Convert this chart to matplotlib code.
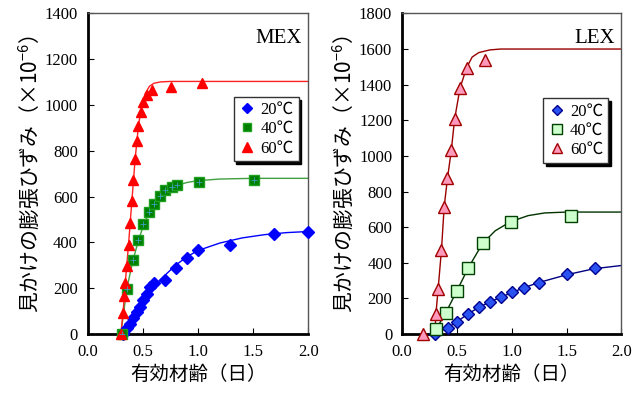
import numpy as np
import matplotlib.pyplot as plt
from matplotlib.lines import Line2D

plt.rcParams['font.family'] = ['Liberation Serif', 'Noto Sans CJK JP']
plt.rcParams['mathtext.fontset'] = 'custom'
plt.rcParams['mathtext.rm'] = 'Noto Sans CJK JP'

JP = ['Noto Sans CJK JP', 'DejaVu Sans']
LABELS = ['20℃', '40℃', '60℃']

# --- MEX: measured points ---
mex20_t = [0.32, 0.355, 0.385, 0.415, 0.445, 0.475, 0.505, 0.535, 0.565, 0.60, 0.70, 0.80, 0.90, 1.00, 1.29, 1.69, 2.00]
mex20_v = [0, 25, 45, 70, 95, 120, 148, 177, 205, 223, 238, 287, 331, 365, 390, 437, 447]
mex40_t = [0.31, 0.355, 0.41, 0.458, 0.505, 0.558, 0.597, 0.655, 0.70, 0.76, 0.81, 1.005, 1.505]
mex40_v = [0, 199, 322, 409, 482, 535, 570, 605, 627, 640, 649, 663, 674]
mex60_t = [0.30, 0.32, 0.33, 0.34, 0.355, 0.37, 0.385, 0.40, 0.415, 0.43, 0.445, 0.46, 0.48, 0.505, 0.535, 0.585, 0.755, 1.04]
mex60_v = [0, 90, 165, 221, 296, 391, 487, 580, 672, 765, 845, 910, 971, 1012, 1044, 1066, 1080, 1094]

# --- MEX: fitted curves ---
mex20_ct = [0.32, 0.40, 0.50, 0.60, 0.70, 0.80, 0.90, 1.00, 1.20, 1.40, 1.60, 1.80, 2.00]
mex20_cv = [0, 50, 140, 210, 257, 302, 338, 365, 398, 420, 434, 443, 448]
mex40_ct = [0.30, 0.355, 0.41, 0.46, 0.51, 0.56, 0.60, 0.66, 0.72, 0.80, 0.90, 1.00, 1.20, 1.50, 2.00]
mex40_cv = [0, 199, 322, 409, 482, 533, 568, 603, 628, 648, 662, 670, 677, 680, 680]
mex60_ct = [0.30, 0.32, 0.34, 0.37, 0.40, 0.43, 0.46, 0.49, 0.52, 0.56, 0.60, 0.66, 0.75, 2.00]
mex60_cv = [0, 90, 221, 391, 580, 765, 910, 1000, 1050, 1082, 1095, 1101, 1103, 1103]

# --- LEX: measured points ---
lex20_t = [0.30, 0.42, 0.50, 0.60, 0.70, 0.80, 0.90, 1.00, 1.11, 1.25, 1.50, 1.76]
lex20_v = [0, 37, 69, 112, 150, 178, 206, 234, 260, 288, 335, 369]
lex40_t = [0.31, 0.40, 0.50, 0.605, 0.735, 0.99, 1.54]
lex40_v = [26, 120, 242, 372, 509, 631, 663]
lex60_t = [0.19, 0.31, 0.33, 0.36, 0.385, 0.415, 0.45, 0.48, 0.53, 0.59, 0.755]
lex60_v = [0, 115, 255, 470, 715, 874, 1032, 1206, 1383, 1496, 1538]

# --- LEX: fitted curves ---
lex20_ct = [0.30, 0.42, 0.50, 0.60, 0.70, 0.80, 0.90, 1.00, 1.10, 1.25, 1.50, 1.75, 2.00]
lex20_cv = [0, 37, 69, 112, 150, 180, 207, 232, 258, 290, 333, 367, 385]
lex40_ct = [0.30, 0.31, 0.40, 0.50, 0.605, 0.735, 0.85, 0.99, 1.15, 1.30, 1.50, 2.00]
lex40_cv = [0, 26, 120, 242, 372, 509, 580, 631, 665, 680, 685, 685]
lex60_ct = [0.30, 0.31, 0.33, 0.36, 0.385, 0.415, 0.45, 0.48, 0.53, 0.59, 0.64, 0.70, 0.80, 0.90, 2.00]
lex60_cv = [0, 115, 255, 470, 715, 874, 1032, 1206, 1383, 1496, 1555, 1580, 1595, 1600, 1600]

mex_style = [
    dict(marker='D', ms=6, mfc='#0000ff', mec='#0000ff', line='#0000ff'),
    dict(marker='s', ms=7, mfc='#008000', mec='#20a020', line='#40a040'),
    dict(marker='^', ms=7.5, mfc='#ff0000', mec='#ff0000', line='#ff2020'),
]
lex_style = [
    dict(marker='D', ms=6, mfc='#2a52f0', mec='#000090', line='#000080'),
    dict(marker='s', ms=8, mfc='#ccffcc', mec='#004000', line='#003300'),
    dict(marker='^', ms=8.5, mfc='#ff99bb', mec='#a00000', line='#990000'),
]


def style_axes(ax, ymax, title):
    ax.set_xlim(0, 2.0)
    ax.set_ylim(0, ymax)
    ax.set_xticks(np.arange(0, 2.01, 0.5))
    ax.set_xticklabels(['0.0', '0.5', '1.0', '1.5', '2.0'])
    ax.set_yticks(np.arange(0, ymax + 1, 200))
    ax.tick_params(direction='in', labelsize=12, length=4, width=0.8, pad=7)
    for side in ('left', 'bottom'):
        ax.spines[side].set_linewidth(2.0)
        ax.spines[side].set_color('black')
    for side in ('top', 'right'):
        ax.spines[side].set_linewidth(1.0)
        ax.spines[side].set_color('#555555')
    ax.set_xlabel('有効材齢（日）', family=JP, fontsize=14, labelpad=3)
    ax.set_ylabel('見かけの膨張ひずみ（×10$^{\\mathregular{-6}}$）', family=JP, fontsize=15, labelpad=2)
    ax.text(0.97, 0.95, title, transform=ax.transAxes, ha='right', va='top', fontsize=15)


def draw(ax, series, styles, anchor):
    handles = []
    for (t, v, ct, cv), st, lab in zip(series, styles, LABELS):
        ax.plot(ct, cv, color=st['line'], lw=1.0, zorder=2)
        ax.plot(t, v, ls='none', marker=st['marker'], ms=st['ms'], mfc=st['mfc'],
                mec=st['mec'], mew=1.0, zorder=3, clip_on=False)
        handles.append(Line2D([], [], ls='none', marker=st['marker'], ms=st['ms'] - 1,
                              mfc=st['mfc'], mec=st['mec'], mew=1.0, label=lab))
    leg = ax.legend(handles=handles, loc='upper right', bbox_to_anchor=anchor,
                    fontsize=12, frameon=True, fancybox=False, shadow={'color': 'black', 'alpha': 1},
                    handletextpad=0.3, handlelength=1.0, borderpad=0.3, labelspacing=0.2,
                    borderaxespad=0)
    leg.get_frame().set_edgecolor('#333333')
    leg.get_frame().set_linewidth(1.0)


fig = plt.figure(figsize=(6.4, 3.94), dpi=100)
ax1 = fig.add_axes([0.137, 0.152, 0.345, 0.814])
ax2 = fig.add_axes([0.628, 0.152, 0.343, 0.814])

draw(ax1, [(mex20_t, mex20_v, mex20_ct, mex20_cv),
           (mex40_t, mex40_v, mex40_ct, mex40_cv),
           (mex60_t, mex60_v, mex60_ct, mex60_cv)], mex_style, (0.955, 0.74))
# small crosses drawn inside the 40℃ squares
ax1.plot(mex40_t, mex40_v, ls='none', marker='+', ms=4, mew=0.6, color='#40a0c0', zorder=4)
style_axes(ax1, 1400, 'MEX')

draw(ax2, [(lex20_t, lex20_v, lex20_ct, lex20_cv),
           (lex40_t, lex40_v, lex40_ct, lex40_cv),
           (lex60_t, lex60_v, lex60_ct, lex60_cv)], lex_style, (0.94, 0.735))
style_axes(ax2, 1800, 'LEX')

fig.savefig('out.png', dpi=100)
